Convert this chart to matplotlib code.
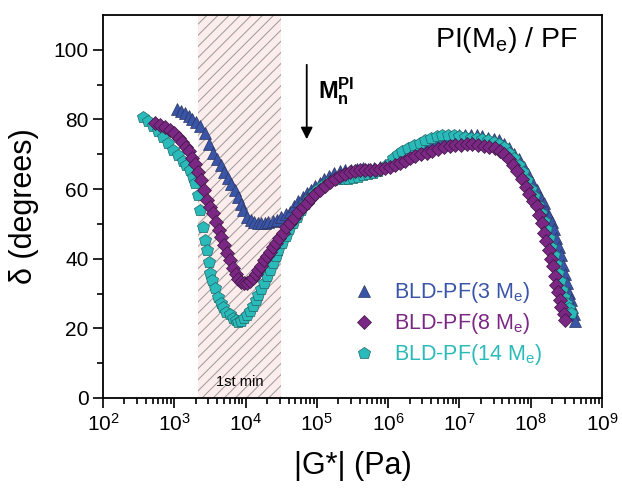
# ==============================
# PHASE ANGLE vs |G*|  (van Gurp-Palmen plot)
# ==============================

import numpy as np
import matplotlib
matplotlib.use("Agg")
import matplotlib.pyplot as plt

plt.rcParams["font.family"] = ["Liberation Sans", "DejaVu Sans"]
plt.rcParams["mathtext.fontset"] = "custom"
plt.rcParams["mathtext.rm"] = "Liberation Sans"
plt.rcParams["mathtext.it"] = "Liberation Sans:italic"
plt.rcParams["mathtext.bf"] = "Liberation Sans:bold"
plt.rcParams["hatch.linewidth"] = 0.7

# ==============================
# DATA (log10 |G*| in Pa, delta in degrees)
# ==============================

logG_3Me = [3.04, 3.10, 3.15, 3.20, 3.25, 3.30, 3.36, 3.43, 3.49, 3.54, 3.60, 3.65,
            3.70, 3.75, 3.80, 3.85, 3.89, 3.93, 3.97, 4.02, 4.07, 4.12, 4.17, 4.22,
            4.27, 4.32, 4.38, 4.44, 4.50, 4.56, 4.62, 4.68, 4.74, 4.80, 4.86, 4.92,
            4.98, 5.04, 5.10, 5.17, 5.24, 5.32, 5.40, 5.48, 5.56, 5.64, 5.72, 5.80,
            5.88, 5.96, 6.04, 6.12, 6.20, 6.28, 6.36, 6.44, 6.52, 6.60, 6.68, 6.76,
            6.84, 6.92, 7.00, 7.08, 7.16, 7.24, 7.32, 7.40, 7.48, 7.56, 7.63, 7.70,
            7.77, 7.84, 7.90, 7.96, 8.02, 8.08, 8.13, 8.18, 8.22, 8.26, 8.30, 8.33,
            8.36, 8.39, 8.42, 8.45, 8.48, 8.51, 8.54, 8.56, 8.58, 8.60, 8.62]
delta_3Me = [83.0, 82.3, 81.9, 81.0, 80.2, 79.3, 78.2, 76.0, 73.0, 70.4, 68.5, 67.0,
             65.0, 63.2, 61.5, 59.8, 57.8, 55.8, 54.0, 52.0, 51.0, 50.5, 50.2, 50.2,
             50.3, 50.5, 50.8, 51.2, 52.0, 52.8, 53.5, 55.0, 56.5, 57.8, 58.8, 59.8,
             60.8, 61.8, 62.8, 63.8, 64.6, 65.3, 65.6, 65.6, 65.8, 66.0, 65.8, 66.0,
             66.3, 66.8, 67.3, 68.0, 68.8, 69.6, 70.5, 71.5, 72.4, 73.2, 73.8, 74.4,
             74.8, 75.2, 75.5, 75.6, 75.6, 75.4, 75.2, 74.8, 74.4, 74.0, 73.0, 71.8,
             70.2, 68.5, 66.2, 64.2, 62.0, 59.8, 57.8, 55.9, 53.8, 52.2, 50.5, 48.5,
             46.0, 43.5, 41.0, 38.2, 35.5, 33.0, 30.2, 28.0, 26.0, 24.0, 22.0]

logG_8Me = [2.73, 2.80, 2.87, 2.94, 3.00, 3.06, 3.11, 3.16, 3.20, 3.25, 3.29, 3.33,
            3.37, 3.41, 3.46, 3.50, 3.54, 3.58, 3.62, 3.66, 3.70, 3.74, 3.78, 3.82,
            3.86, 3.90, 3.94, 3.98, 4.02, 4.06, 4.10, 4.14, 4.18, 4.22, 4.26, 4.30,
            4.34, 4.38, 4.42, 4.47, 4.52, 4.57, 4.62, 4.68, 4.74, 4.80, 4.86, 4.92,
            4.98, 5.04, 5.11, 5.18, 5.25, 5.32, 5.39, 5.46, 5.53, 5.60, 5.67, 5.74,
            5.81, 5.88, 5.95, 6.02, 6.09, 6.16, 6.23, 6.30, 6.38, 6.46, 6.54, 6.62,
            6.70, 6.78, 6.86, 6.94, 7.02, 7.10, 7.18, 7.26, 7.34, 7.42, 7.50, 7.57,
            7.63, 7.69, 7.75, 7.81, 7.87, 7.93, 7.98, 8.03, 8.08, 8.12, 8.16, 8.19,
            8.22, 8.25, 8.28, 8.31, 8.34, 8.36, 8.38, 8.41, 8.43, 8.46, 8.48]
delta_8Me = [79.0, 78.3, 77.8, 77.0, 76.0, 74.8, 73.6, 72.2, 70.8, 68.8, 67.2, 65.0,
             62.5, 59.8, 57.0, 54.8, 53.0, 50.5, 48.3, 46.2, 44.0, 41.7, 39.5, 37.3,
             35.6, 34.3, 33.4, 33.0, 33.0, 33.6, 34.5, 35.5, 36.8, 38.0, 39.5, 40.8,
             42.0, 43.3, 44.5, 46.0, 47.5, 49.0, 50.3, 51.8, 53.3, 54.8, 56.0, 57.3,
             58.5, 59.8, 61.0, 62.0, 63.0, 63.8, 64.4, 64.8, 65.2, 65.4, 65.5, 65.5,
             65.6, 65.8, 66.0, 66.2, 66.8, 67.5, 68.2, 68.8, 69.4, 70.0, 70.5, 71.0,
             71.5, 72.0, 72.3, 72.6, 72.8, 73.0, 73.0, 72.8, 72.5, 72.2, 71.8, 71.0,
             70.0, 68.5, 67.0, 65.2, 63.0, 60.5, 58.5, 56.5, 55.0, 52.5, 50.3, 47.5,
             45.0, 42.5, 40.0, 37.8, 35.0, 32.5, 30.5, 28.0, 26.0, 24.0, 22.4]

logG_14Me = [2.56, 2.63, 2.70, 2.77, 2.84, 2.91, 2.98, 3.05, 3.12, 3.17, 3.22, 3.26,
             3.29, 3.33, 3.36, 3.40, 3.43, 3.46, 3.48, 3.50, 3.53, 3.57, 3.61, 3.65,
             3.69, 3.73, 3.78, 3.82, 3.86, 3.90, 3.94, 3.98, 4.02, 4.06, 4.10, 4.14,
             4.18, 4.22, 4.26, 4.30, 4.34, 4.38, 4.42, 4.46, 4.51, 4.56, 4.61, 4.66,
             4.72, 4.78, 4.84, 4.90, 4.96, 5.02, 5.09, 5.16, 5.23, 5.30, 5.37, 5.44,
             5.51, 5.58, 5.65, 5.72, 5.79, 5.86, 5.93, 6.00, 6.07, 6.14, 6.20, 6.28,
             6.36, 6.44, 6.52, 6.60, 6.68, 6.76, 6.84, 6.92, 7.00, 7.08, 7.16, 7.24,
             7.32, 7.40, 7.48, 7.56, 7.63, 7.70, 7.77, 7.83, 7.89, 7.95, 8.00, 8.05,
             8.10, 8.14, 8.18, 8.22, 8.26, 8.29, 8.32, 8.35, 8.38, 8.41, 8.44, 8.47,
             8.50, 8.53, 8.56]
delta_14Me = [80.7, 79.5, 78.2, 76.8, 75.0, 73.2, 71.3, 69.8, 68.2, 67.0, 65.5, 63.5,
              61.8, 58.3, 54.0, 49.0, 45.5, 42.5, 39.0, 36.0, 34.0, 31.5, 29.0, 27.3,
              26.0, 24.8, 24.0, 23.0, 22.3, 21.8, 22.0, 23.0, 23.8, 25.0, 26.5, 28.0,
              29.5, 31.2, 33.0, 35.0, 36.8, 38.8, 40.8, 42.5, 44.5, 46.5, 48.5, 50.2,
              52.0, 54.0, 55.8, 57.5, 58.8, 60.0, 61.2, 62.0, 62.6, 63.0, 62.8, 62.8,
              63.2, 63.6, 64.0, 64.3, 64.6, 65.2, 66.0, 67.2, 68.8, 70.0, 70.8, 71.8,
              72.6, 73.3, 74.0, 74.6, 75.2, 75.6, 75.6, 75.4, 75.2, 75.0, 74.8, 74.6,
              74.4, 74.0, 73.6, 73.0, 72.0, 70.5, 68.8, 67.0, 64.8, 62.5, 60.0, 58.0,
              55.5, 53.0, 50.8, 48.5, 46.0, 43.5, 41.0, 38.5, 36.0, 33.5, 31.0, 29.0,
              27.2, 25.8, 24.5]

labels = [r"BLD-PF(3 M$_\mathrm{e}$)", r"BLD-PF(8 M$_\mathrm{e}$)", r"BLD-PF(14 M$_\mathrm{e}$)"]
colors = ["#3a55a8", "#7b2884", "#2bbaba"]

# first-minimum band and M_n(PI) arrow position
min_band = [2.15e3, 3.16e4]
Mn_PI = 7.2e4

# ==============================
# PLOT
# ==============================

fig = plt.figure(figsize=(6.22, 4.90), dpi=100)
ax = fig.add_axes([0.1656, 0.1878, 0.8024, 0.7816])

ax.axvspan(min_band[0], min_band[1], facecolor="#fcecec", edgecolor="#9a9a9a",
           hatch="///", linewidth=0, zorder=0)
ax.text(np.sqrt(min_band[0] * min_band[1]), 4.6, "1st min", fontsize=10.5,
        ha="center", va="center", zorder=1)

h1, = ax.plot(10 ** np.array(logG_3Me), delta_3Me, "^", ms=9, mfc=colors[0],
              mec="#2b3560", mew=0.5, label=labels[0], zorder=2)
h3, = ax.plot(10 ** np.array(logG_14Me), delta_14Me, "p", ms=9, mfc=colors[2],
              mec="#206565", mew=0.5, label=labels[2], zorder=3)
h2, = ax.plot(10 ** np.array(logG_8Me), delta_8Me, "D", ms=7.5, mfc=colors[1],
              mec="#3c1540", mew=0.5, label=labels[1], zorder=4)

ax.set_xscale("log")
ax.set_xlim(1e2, 1e9)
ax.set_ylim(0, 110)
ax.set_xticks([10.0 ** k for k in range(2, 10)])
ax.set_xticklabels([r"10$^{%d}$" % k for k in range(2, 10)])
ax.set_yticks([0, 20, 40, 60, 80, 100])
ax.set_yticks([10, 30, 50, 70, 90], minor=True)

ax.tick_params(which="both", direction="out", top=False, right=False, width=1.2)
ax.tick_params(which="major", length=7, labelsize=15)
ax.tick_params(which="minor", length=4)
for s in ax.spines.values():
    s.set_linewidth(1.3)

ax.set_xlabel("|G*| (Pa)", fontsize=22, labelpad=12)
ax.set_ylabel("\u03b4 (degrees)", fontsize=22, labelpad=10)

ax.annotate("", xy=(Mn_PI, 73.5), xytext=(Mn_PI, 96.5),
            arrowprops=dict(arrowstyle="-|>,head_length=0.7,head_width=0.35",
                            color="black", lw=1.3))
ax.text(1.05e5, 88, r"$\mathbf{M}_\mathbf{n}^\mathbf{PI}$", fontsize=17,
        ha="left", va="center")
ax.text(0.952, 0.935, r"PI(M$_\mathrm{e}$) / PF", transform=ax.transAxes,
        fontsize=20.5, ha="right", va="center")

leg = ax.legend(handles=[h1, h2, h3], loc="upper left",
                bbox_to_anchor=(0.48, 0.335), frameon=False, fontsize=15.5,
                handlelength=1.0, handletextpad=0.9, labelspacing=0.28,
                borderpad=0)
for txt, c in zip(leg.get_texts(), colors):
    txt.set_color(c)

fig.savefig("out.png", dpi=100)
